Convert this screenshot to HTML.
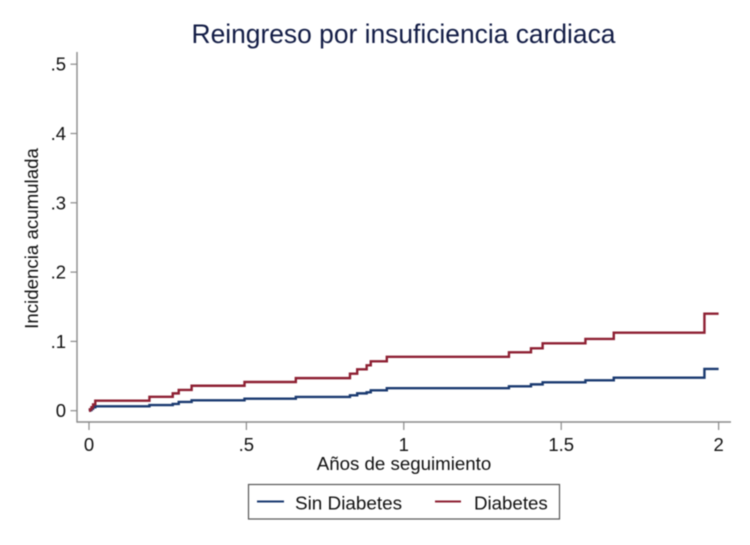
<!DOCTYPE html>
<html lang="es">
<head>
<meta charset="utf-8">
<title>Reingreso por insuficiencia cardiaca</title>
<style>
html,body{margin:0;padding:0;background:#fff;}
svg{display:block;width:750px;height:545px;font-family:"Liberation Sans",sans-serif;filter:blur(0.4px);}
</style>
</head>
<body>
<svg id="chart" xmlns="http://www.w3.org/2000/svg" width="750" height="545" viewBox="0 0 750 545">
  <rect x="0" y="0" width="750" height="545" fill="#ffffff"/>
  <text x="403.5" y="43" text-anchor="middle" font-size="26.4" fill="#121c45">Reingreso por insuficiencia cardiaca</text>
  <line x1="77" y1="52" x2="77" y2="422.5" stroke="#8a8a8a" stroke-width="1.4"/>
  <line x1="76.5" y1="422" x2="731" y2="422" stroke="#8a8a8a" stroke-width="1.4"/>
  <g id="y-axis"></g>
  <g id="x-axis"></g>
  <g id="series"></g>
  <text transform="translate(38,238.5) rotate(-90)" text-anchor="middle" font-size="18.7" fill="#111">Incidencia acumulada</text>
  <text x="404" y="470" text-anchor="middle" font-size="18.7" fill="#111">Años de seguimiento</text>
  <g>
    <rect x="248.5" y="484.5" width="311" height="34.5" fill="#fff" stroke="#555" stroke-width="1.2"/>
    <line x1="257" y1="501.5" x2="284" y2="501.5" stroke="#1a3a70" stroke-width="2"/>
    <text x="295" y="509.5" font-size="18.9" fill="#111">Sin Diabetes</text>
    <line x1="435" y1="501.5" x2="461" y2="501.5" stroke="#8e2033" stroke-width="2"/>
    <text x="474" y="509.5" font-size="18.7" fill="#111">Diabetes</text>
  </g>
</svg>
<script>
const xTicks = [0, 0.5, 1, 1.5, 2];
const xTickLabels = ["0", ".5", "1", "1.5", "2"];
const yTicks = [0, 0.1, 0.2, 0.3, 0.4, 0.5];
const yTickLabels = ["0", ".1", ".2", ".3", ".4", ".5"];

const timesSinDiabetes = [0, 0.003, 0.008, 0.013, 0.02, 0.192, 0.266, 0.285, 0.326, 0.494, 0.657, 0.829, 0.852, 0.882, 0.895, 0.946, 1.334, 1.404, 1.441, 1.577, 1.667, 1.955, 2];
const incidenceSinDiabetes = [0, 0.001, 0.003, 0.005, 0.0063, 0.0082, 0.0097, 0.0126, 0.015, 0.0173, 0.0198, 0.0222, 0.025, 0.0265, 0.0294, 0.0325, 0.0352, 0.038, 0.041, 0.0439, 0.0476, 0.0602, 0.0602];

const timesDiabetes = [0, 0.003, 0.008, 0.013, 0.02, 0.192, 0.266, 0.285, 0.326, 0.494, 0.657, 0.829, 0.852, 0.882, 0.895, 0.946, 1.334, 1.404, 1.441, 1.577, 1.667, 1.955, 2];
const incidenceDiabetes = [0, 0.002, 0.005, 0.009, 0.0144, 0.02, 0.025, 0.03, 0.036, 0.0414, 0.047, 0.0534, 0.0597, 0.0655, 0.0713, 0.0778, 0.0842, 0.09, 0.0972, 0.1035, 0.1126, 0.14, 0.14];

const svgNS = "http://www.w3.org/2000/svg";

function xScale(v) { return 89 + v * 314.8; }
function yScale(v) { return 410.7 - v * 693; }

function makeEl(tag, parent, props) {
  const el = document.createElementNS(svgNS, tag);
  for (const k in props) el.setAttribute(k, props[k]);
  parent.appendChild(el);
  return el;
}

const yAxisGroup = document.getElementById("y-axis");
yTicks.forEach(function (t, i) {
  const y = yScale(t);
  const tick = makeEl("line", yAxisGroup, { x1: 70.5, x2: 77, y1: y, y2: y, stroke: "#8a8a8a", "stroke-width": 1.2 });
  
  
  const label = makeEl("text", yAxisGroup, { x: 66, y: y + 6.5, "text-anchor": "end", "font-size": 18.5, fill: "#111" });
  
  
  label.textContent = yTickLabels[i];
});

const xAxisGroup = document.getElementById("x-axis");
xTicks.forEach(function (t, i) {
  const x = xScale(t);
  const tick = makeEl("line", xAxisGroup, { x1: x, x2: x, y1: 422, y2: 430, stroke: "#8a8a8a", "stroke-width": 1.2 });
  
  
  const label = makeEl("text", xAxisGroup, { x: x, y: 451, "text-anchor": "middle", "font-size": 18.5, fill: "#111" });
  
  
  label.textContent = xTickLabels[i];
});

function stepPath(times, values) {
  let d = "M" + xScale(times[0]).toFixed(2) + " " + yScale(values[0]).toFixed(2);
  for (let i = 1; i < times.length; i++) {
    d += "H" + xScale(times[i]).toFixed(2) + "V" + yScale(values[i]).toFixed(2);
  }
  return d;
}

const seriesGroup = document.getElementById("series");

const blueLine = makeEl("path", seriesGroup, { d: stepPath(timesSinDiabetes, incidenceSinDiabetes), fill: "none", stroke: "#1a3a70", "stroke-width": 2.4 });



const redLine = makeEl("path", seriesGroup, { d: stepPath(timesDiabetes, incidenceDiabetes), fill: "none", stroke: "#8e2033", "stroke-width": 2.4 });


</script>
</body>
</html>
